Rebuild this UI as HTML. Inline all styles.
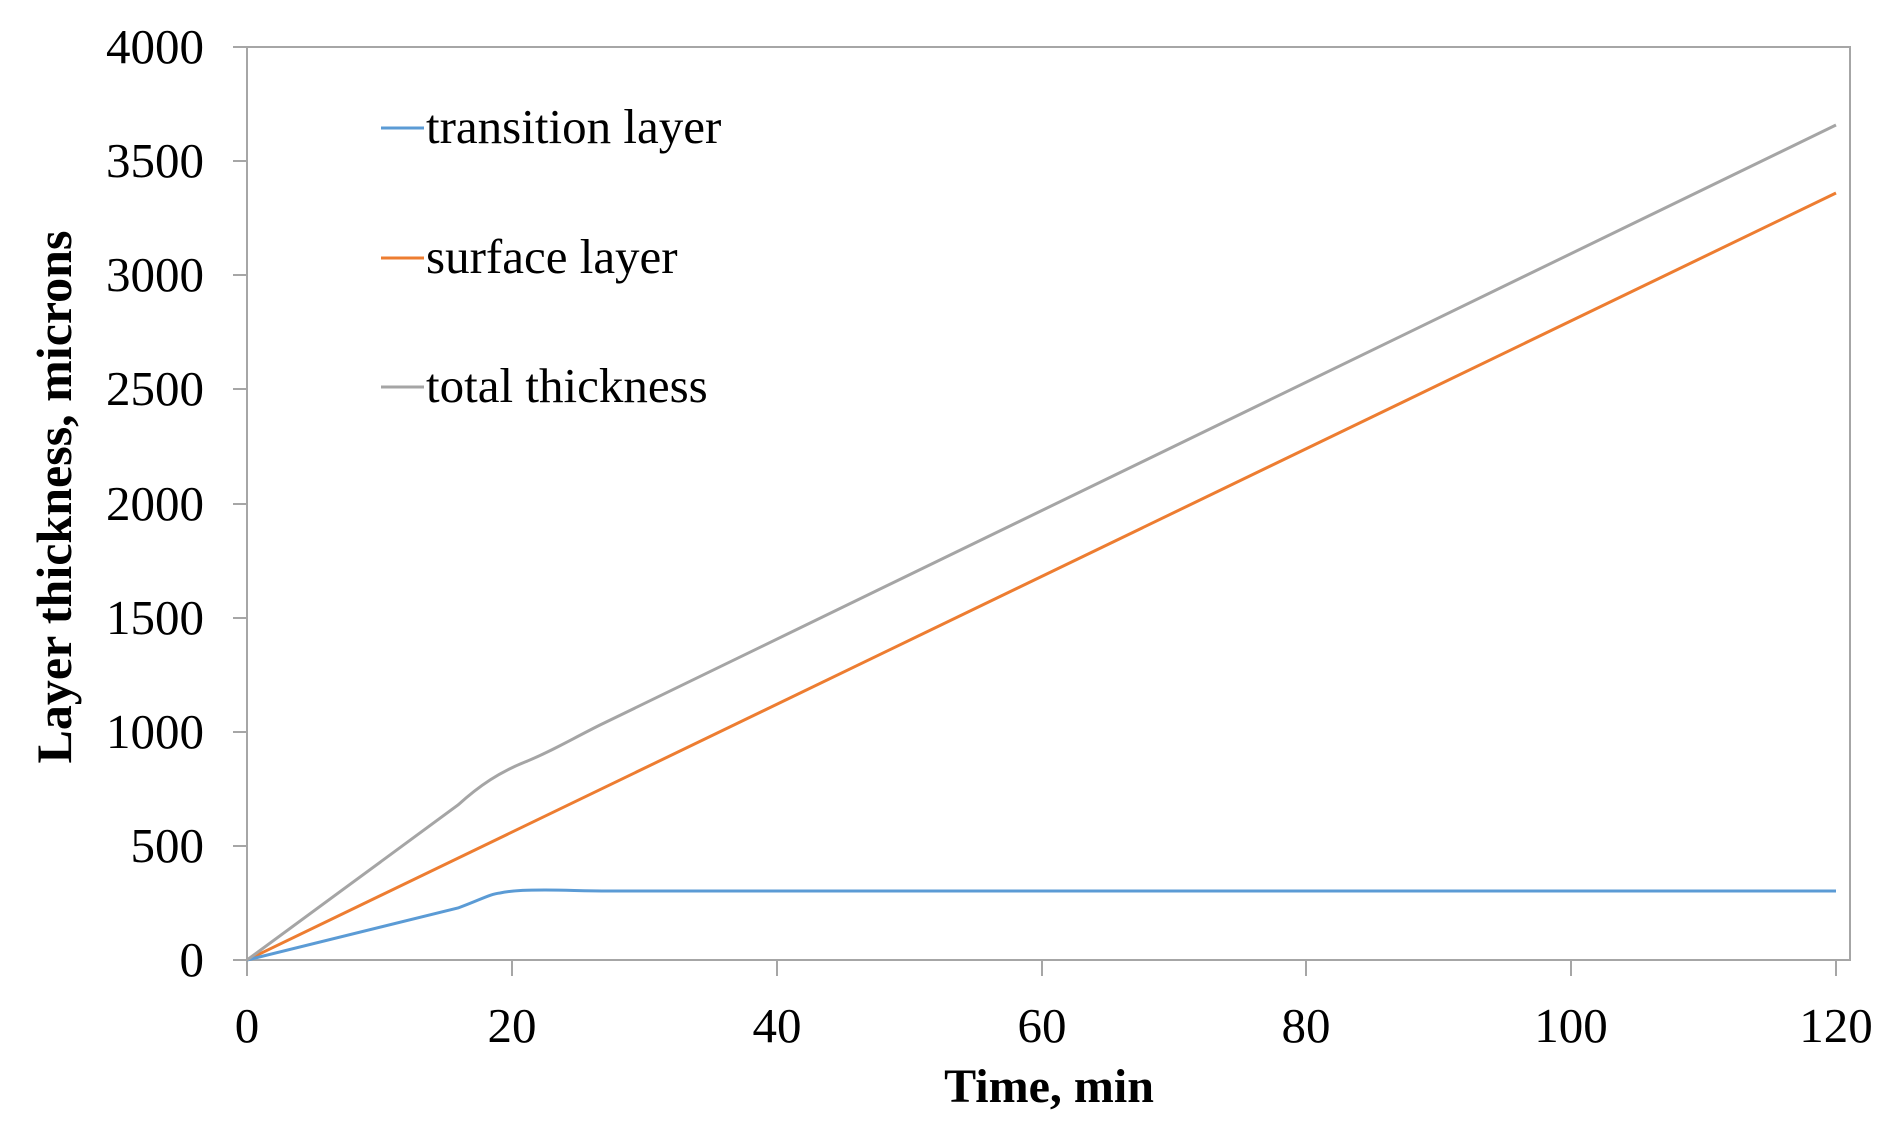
<!DOCTYPE html>
<html><head><style>body{margin:0;background:#fff}svg{display:block}</style></head><body>
<svg width="1891" height="1135" xmlns="http://www.w3.org/2000/svg" font-family="Liberation Serif, serif">
<rect x="247" y="47" width="1603" height="913" fill="none" stroke="#a6a6a6" stroke-width="2"/>
<g stroke="#a6a6a6" stroke-width="2">
<line x1="233" y1="47" x2="247" y2="47"/><line x1="233" y1="161" x2="247" y2="161"/><line x1="233" y1="275" x2="247" y2="275"/><line x1="233" y1="389" x2="247" y2="389"/><line x1="233" y1="504" x2="247" y2="504"/><line x1="233" y1="618" x2="247" y2="618"/><line x1="233" y1="732" x2="247" y2="732"/><line x1="233" y1="846" x2="247" y2="846"/><line x1="233" y1="960" x2="247" y2="960"/>
<line x1="247" y1="960" x2="247" y2="976"/><line x1="512" y1="960" x2="512" y2="976"/><line x1="777" y1="960" x2="777" y2="976"/><line x1="1042" y1="960" x2="1042" y2="976"/><line x1="1306" y1="960" x2="1306" y2="976"/><line x1="1571" y1="960" x2="1571" y2="976"/><line x1="1836" y1="960" x2="1836" y2="976"/>
</g>
<g font-size="49" text-anchor="end" fill="#000">
<text x="204" y="63">4000</text><text x="204" y="177">3500</text><text x="204" y="291">3000</text><text x="204" y="405">2500</text><text x="204" y="520">2000</text><text x="204" y="634">1500</text><text x="204" y="748">1000</text><text x="204" y="862">500</text><text x="204" y="976">0</text>
</g>
<g font-size="49" text-anchor="middle" fill="#000">
<text x="247" y="1042">0</text><text x="512" y="1042">20</text><text x="777" y="1042">40</text><text x="1042" y="1042">60</text><text x="1306" y="1042">80</text><text x="1571" y="1042">100</text><text x="1836" y="1042">120</text>
</g>
<text x="1049" y="1102" font-size="48" font-weight="bold" text-anchor="middle">Time, min</text>
<text transform="translate(71,497) rotate(-90)" font-size="50" font-weight="bold" text-anchor="middle">Layer thickness, microns</text>
<g fill="none" stroke-width="3">
<polyline stroke="#ed7d31" points="247,960 1836,193"/>
<path stroke="#5b9bd5" d="M247,960 L458,908 C480,900 490,894 500,893 C515,890 530,890 545,890 C570,890 580,891 610,891 L1836,891"/>
<path stroke="#a5a5a5" d="M247,960 L458,805 C480,785 500,772 525,762 C550,752 570,740 600,725 L1836,125"/>
</g>
<g stroke-width="3">
<line x1="381" y1="128" x2="424" y2="128" stroke="#5b9bd5"/>
<line x1="381" y1="258" x2="424" y2="258" stroke="#ed7d31"/>
<line x1="381" y1="387" x2="424" y2="387" stroke="#a5a5a5"/>
</g>
<g font-size="49" fill="#000">
<text x="426" y="143">transition layer</text>
<text x="426" y="273">surface layer</text>
<text x="426" y="402">total thickness</text>
</g>
</svg>
</body></html>
